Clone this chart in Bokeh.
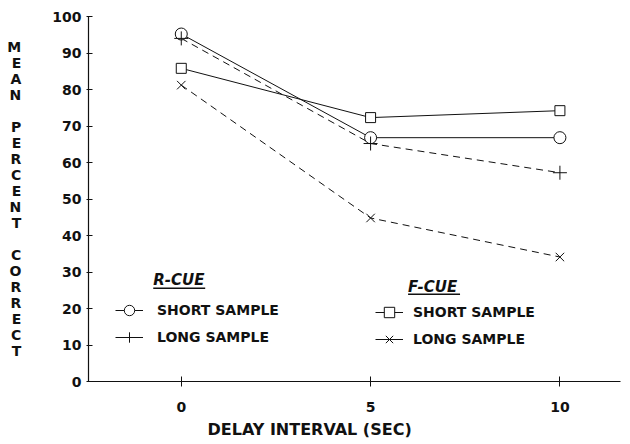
from bokeh.plotting import figure
from bokeh.models import Range1d, Legend, LegendItem, Label, BoxAnnotation, FixedTicker, Title
from bokeh.embed import file_html
from bokeh.resources import INLINE

# ---- data ----
delay = [0, 5, 10]
r_short = [95.2, 66.8, 66.8]
r_long = [94.0, 65.2, 57.2]
f_short = [85.8, 72.3, 74.2]
f_long = [81.2, 44.8, 34.1]
y_ticks = [0, 10, 20, 30, 40, 50, 60, 70, 80, 90, 100]
x_ticks = [0, 5, 10]
y_title = "MEAN PERCENT CORRECT"
x_title = "DELAY INTERVAL (SEC)"

FONT = "DejaVu Sans"
INK = "#111111"

p = figure(width=628, height=442, output_backend="svg", toolbar_location=None,
           x_range=Range1d(-2.45, 11.6), y_range=Range1d(0, 100),
           min_border_left=88, min_border_right=8, min_border_top=16, min_border_bottom=61)
p.outline_line_color = None
p.xgrid.visible = False
p.ygrid.visible = False
p.background_fill_color = "white"
p.border_fill_color = "white"

for ax in (p.xaxis[0], p.yaxis[0]):
    ax.axis_line_color = INK
    ax.axis_line_width = 1.2
    ax.major_tick_line_color = INK
    ax.minor_tick_line_color = None
    ax.major_label_text_font = FONT
    ax.major_label_text_font_style = "bold"
    ax.major_label_text_font_size = "14px"
    ax.major_label_text_color = INK

p.xaxis.ticker = FixedTicker(ticks=x_ticks)
p.yaxis.ticker = FixedTicker(ticks=y_ticks)
p.xaxis.major_tick_in = 5
p.xaxis.major_tick_out = 5
p.xaxis.major_label_standoff = 15
p.yaxis.major_tick_in = 4
p.yaxis.major_tick_out = 2
p.yaxis.major_label_standoff = 5

# stacked vertical y title
p.yaxis.axis_label = "\n".join(list(y_title))
p.yaxis.axis_label_orientation = "horizontal"
p.yaxis.axis_label_text_font = FONT
p.yaxis.axis_label_text_font_style = "bold"
p.yaxis.axis_label_text_font_size = "14px"
p.yaxis.axis_label_text_line_height = 1.0
p.yaxis.axis_label_standoff = 28
p.yaxis.axis_label_text_color = INK

p.add_layout(Title(text=x_title, align="left", offset=119, text_font=FONT,
                   text_font_style="bold", text_font_size="16px", text_color=INK,
                   standoff=7), "below")

# ---- series ----
series = [
    (r_short, "solid", "circle", 12),
    (r_long, "7 5", "cross", 14),
    (f_short, "solid", "square", 10),
    (f_long, "7 5", "x", 12),
]
for ys, dash, _, _ in series:
    p.line(delay, ys, line_color=INK, line_width=1, line_dash=dash)
for ys, _, marker, size in series:
    p.scatter(delay, ys, marker=marker, size=size, line_color=INK, line_width=1,
              fill_color="white" if marker in ("circle", "square") else None)

NAN = float("nan")


def proxy(marker, size):
    l = p.line(x=[NAN, NAN], y=[NAN, NAN], line_color=INK, line_width=1)
    s = p.scatter(x=[NAN], y=[NAN], marker=marker, size=size, line_color=INK, line_width=1,
                  fill_color="white" if marker in ("circle", "square") else None)
    return [l, s]


def make_legend(items, loc, standoff):
    return Legend(items=items, location=loc, glyph_width=28, glyph_height=26,
                  label_height=14, label_standoff=standoff, spacing=1, padding=0,
                  margin=0, border_line_alpha=0, background_fill_alpha=0,
                  label_text_font=FONT, label_text_font_style="bold",
                  label_text_font_size="14px", label_text_color=INK)


leg_r = make_legend([
    LegendItem(label="SHORT SAMPLE", renderers=proxy("circle", 12)),
    LegendItem(label="LONG SAMPLE", renderers=proxy("cross", 14)),
], (27, 31), 14)
leg_f = make_legend([
    LegendItem(label="SHORT SAMPLE", renderers=proxy("square", 10)),
    LegendItem(label="LONG SAMPLE", renderers=proxy("x", 12)),
], (287, 29), 10)
p.add_layout(leg_r)
p.add_layout(leg_f)

# group headers
px_x = 37.9
px_y = 3.65
for txt, hx, hy in (("R-CUE", -0.74, 27.7), ("F-CUE", 5.99, 26.0)):
    p.add_layout(Label(x=hx, y=hy, text=txt, text_font=FONT, text_font_style="bold italic",
                       text_font_size="15px", text_baseline="middle", text_color=INK))
    p.add_layout(BoxAnnotation(left=hx, right=hx + 52 / px_x, bottom=hy - 8.5 / px_y,
                               top=hy - 7 / px_y, fill_color=INK, fill_alpha=1,
                               line_color=None))

open("out.html", "w").write(file_html(p, INLINE))
